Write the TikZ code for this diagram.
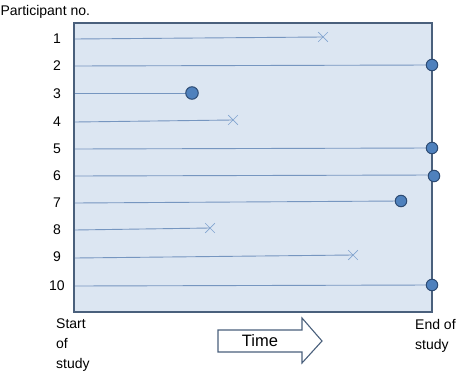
\documentclass[tikz,border=0pt]{standalone}
\usepackage{fontspec}
\setmainfont{Liberation Sans}
\usetikzlibrary{shapes.misc, positioning}
\definecolor{boxfill}{RGB}{220,230,242}
\definecolor{boxedge}{RGB}{74,96,124}
\definecolor{rowline}{RGB}{118,150,192}
\definecolor{crosscol}{RGB}{130,165,208}
\definecolor{dotfill}{RGB}{79,129,189}
\definecolor{dotedge}{RGB}{45,75,115}

\begin{document}
\begin{tikzpicture}[x=1pt, y=-1pt,
  every node/.style={font=\fontsize{14}{20}\selectfont},
  rowline/.style={draw=rowline, line width=0.9pt},
  dot/.style={circle, draw=dotedge, fill=dotfill, line width=1pt, inner sep=0pt, minimum size=11.5pt},
  xmark/.style={cross out, draw=crosscol, line width=0.7pt, inner sep=0pt, minimum size=9pt},
  num/.style={anchor=center}]
\useasboundingbox (0,0) rectangle (457,374);
% study period
\draw[fill=boxfill, draw=boxedge, line width=1.3pt] (74,23) rectangle (432,312);
\draw[boxedge, line width=1.8pt] (432,23) -- (432,312);
\node[anchor=west] (title) at (-3,12) {Participant no.};
% row labels
\node[num] (n1) at (57,39) {1};
\node[num] (n2) at (57,66) {2};
\node[num] (n3) at (57,94) {3};
\node[num] (n4) at (57,122) {4};
\node[num] (n5) at (57,149) {5};
\node[num] (n6) at (57,176) {6};
\node[num] (n7) at (57,203) {7};
\node[num] (n8) at (57,230) {8};
\node[num] (n9) at (57,257) {9};
\node[num] (n10) at (57,286) {10};
% start points
\coordinate (s1) at (75,39);
\coordinate (s2) at (75,66);
\coordinate (s3) at (75,93);
\coordinate (s4) at (75,122);
\coordinate (s5) at (75,149);
\coordinate (s6) at (75,176);
\coordinate (s7) at (75,203);
\coordinate (s8) at (75,230);
\coordinate (s9) at (75,258);
\coordinate (s10) at (75,286);
% end points
\node[xmark] (e1) at (323,37) {};
\node[xmark] (e4) at (233,120) {};
\node[xmark] (e8) at (210,228) {};
\node[xmark] (e9) at (353,255) {};
\draw[rowline] (s1) -- (e1.center);
\draw[rowline] (s4) -- (e4.center);
\draw[rowline] (s8) -- (e8.center);
\draw[rowline] (s9) -- (e9.center);
\draw[rowline] (s2) -- (432,65);
\draw[rowline] (s3) -- (192,93);
\draw[rowline] (s5) -- (432,148);
\draw[rowline] (s6) -- (434,175);
\draw[rowline] (s7) -- (401,201);
\draw[rowline] (s10) -- (432,285);
\node[dot] (e2) at (432,65) {};
\node[dot, minimum size=12.5pt] (e3) at (192,93) {};
\node[dot] (e5) at (432,148) {};
\node[dot] (e6) at (434,176) {};
\node[dot] (e7) at (401,201) {};
\node[dot] (e10) at (432,285) {};
% time axis
\node[anchor=north west, align=left, inner sep=0pt] (start) at (56,319) {Start\\of\\study};
\node[anchor=north west, align=left, inner sep=0pt] (end) at (415,319) {End of\\study};
\draw[boxedge, line width=1.1pt, fill=white] (218,330) -- (302,330) -- (302,318) -- (322,341)
  -- (302,363) -- (302,352) -- (218,352) -- cycle;
\node[font=\fontsize{16.5}{18}\selectfont] (time) at (260,341) {Time};
\end{tikzpicture}
\end{document}
